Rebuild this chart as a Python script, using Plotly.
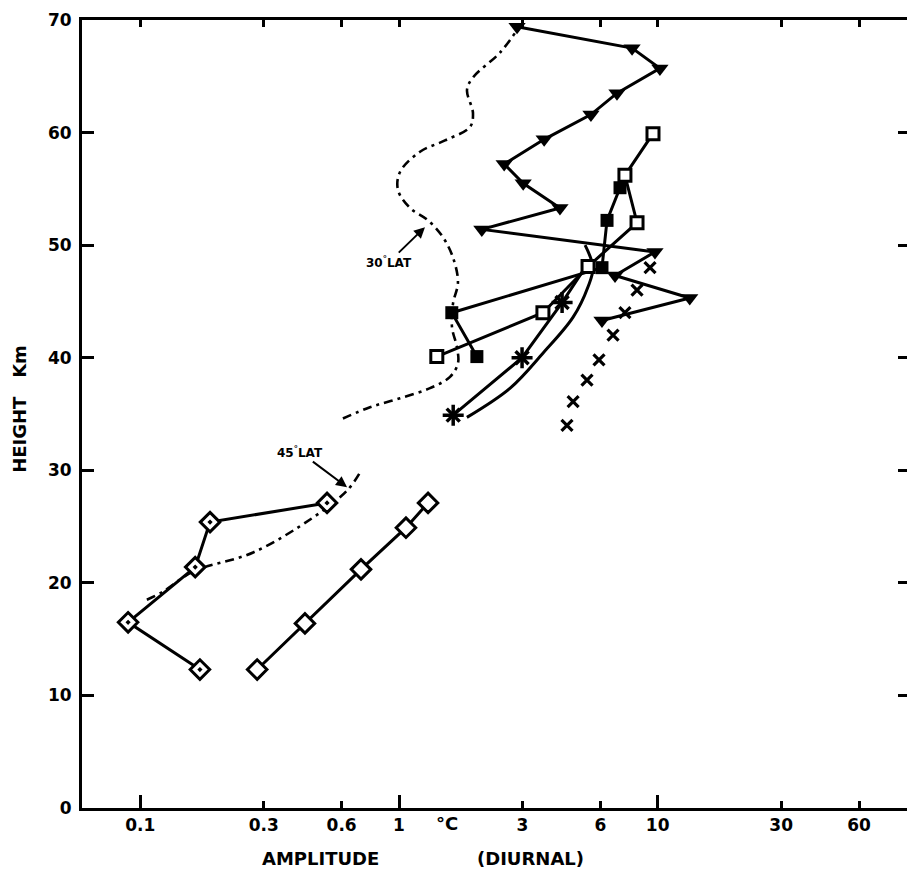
import math
import plotly.graph_objects as go

# ---------------- data ----------------
x_tickvals = [0.1, 0.3, 0.6, 1, 3, 6, 10, 30, 60]
x_ticktext = ["0.1", "0.3", "0.6", "1", "3", "6", "10", "30", "60"]
x_major = [0.1, 1, 10]
y_tickvals = [0, 10, 20, 30, 40, 50, 60, 70]

# filled inverted triangles (upper profile)
tri_amp = [2.86, 7.96, 10.2, 6.96, 5.52, 3.64, 2.55, 3.02, 4.19, 2.09, 9.76, 6.84, 13.3, 6.09]
tri_h = [69.4, 67.5, 65.7, 63.5, 61.6, 59.4, 57.2, 55.5, 53.3, 51.4, 49.4, 47.3, 45.3, 43.3]

# open squares
osq_amp = [9.59, 7.47, 8.32, 5.38, 3.60, 1.40]
osq_h = [59.9, 56.2, 52.0, 48.1, 44.0, 40.1]

# filled squares
fsq_amp = [7.15, 6.37, 6.09, 1.60, 2.00]
fsq_h = [55.1, 52.2, 48.0, 44.0, 40.1]

# asterisks: line through the symbols up to the cluster
ast_line_amp = [1.62, 2.99, 4.27, 5.24]
ast_line_h = [34.9, 40.0, 44.9, 48.0]
ast_amp = [1.62, 2.99, 4.27]
ast_h = [34.9, 40.0, 44.9]

# smooth curve without symbols
curve_amp = [1.83, 2.69, 3.60, 4.71, 5.38, 5.62, 5.24]
curve_h = [34.7, 37.3, 40.4, 43.6, 46.3, 48.0, 50.0]

# x symbols (no line)
xs_amp = [4.46, 4.71, 5.33, 5.93, 6.72, 7.47, 8.32, 9.34]
xs_h = [34.0, 36.1, 38.0, 39.8, 42.0, 44.0, 46.0, 48.0]

# diamonds with dot (lower left)
dd_amp = [0.170, 0.0897, 0.163, 0.186, 0.527]
dd_h = [12.3, 16.5, 21.4, 25.4, 27.1]

# open diamonds (lower right)
od_amp = [0.283, 0.433, 0.713, 1.064, 1.295]
od_h = [12.3, 16.4, 21.2, 24.9, 27.1]

# 45 deg LAT dash-dot curve
lat45_amp = [0.106, 0.122, 0.160, 0.273, 0.465, 0.630, 0.707]
lat45_h = [18.5, 19.2, 21.0, 22.7, 25.8, 28.2, 29.8]

# 30 deg LAT dash-dot curve
lat30_amp = [0.607, 0.772, 1.009, 1.318, 1.575, 1.69, 1.676, 1.603, 1.617, 1.69, 1.617, 1.479,
             1.295, 1.103, 0.991, 1.009, 1.206, 1.506, 1.881, 1.932, 1.832, 1.932, 2.457, 2.858]
lat30_h = [34.6, 35.6, 36.4, 37.3, 38.3, 39.5, 40.9, 42.7, 44.8, 46.7, 48.9, 50.7,
           52.2, 53.3, 54.9, 56.5, 58.3, 59.3, 60.5, 61.7, 63.8, 64.9, 67.1, 69.1]

# ---------------- figure ----------------
BLACK = "#000000"
FONT = "DejaVu Sans"
DASHDOT = "9px,5px,3px,5px"

fig = go.Figure()

fig.add_trace(go.Scatter(x=lat30_amp, y=lat30_h, mode="lines", line=dict(color=BLACK, width=2.6, dash=DASHDOT, shape="spline"), showlegend=False))
fig.add_trace(go.Scatter(x=lat45_amp, y=lat45_h, mode="lines", line=dict(color=BLACK, width=2.6, dash=DASHDOT, shape="spline"), showlegend=False))

fig.add_trace(go.Scatter(x=curve_amp, y=curve_h, mode="lines", line=dict(color=BLACK, width=3, shape="spline"), showlegend=False))

fig.add_trace(go.Scatter(x=ast_line_amp, y=ast_line_h, mode="lines", line=dict(color=BLACK, width=3), showlegend=False))
fig.add_trace(go.Scatter(x=ast_amp, y=ast_h, mode="markers",
                         marker=dict(symbol="cross-thin-open", size=15, color=BLACK, line=dict(color=BLACK, width=3.5)), showlegend=False))
fig.add_trace(go.Scatter(x=ast_amp, y=ast_h, mode="markers",
                         marker=dict(symbol="x-thin-open", size=13, color=BLACK, line=dict(color=BLACK, width=3.5)), showlegend=False))

fig.add_trace(go.Scatter(x=xs_amp, y=xs_h, mode="markers",
                         marker=dict(symbol="x-thin-open", size=11, color=BLACK, line=dict(color=BLACK, width=3.2)), showlegend=False))

fig.add_trace(go.Scatter(x=tri_amp, y=tri_h, mode="lines+markers", line=dict(color=BLACK, width=3),
                         marker=dict(symbol="triangle-down", size=15, color=BLACK), showlegend=False))

fig.add_trace(go.Scatter(x=fsq_amp, y=fsq_h, mode="lines+markers", line=dict(color=BLACK, width=3),
                         marker=dict(symbol="square", size=13, color=BLACK), showlegend=False))

fig.add_trace(go.Scatter(x=osq_amp, y=osq_h, mode="lines+markers", line=dict(color=BLACK, width=3),
                         marker=dict(symbol="square", size=12, color="white", line=dict(color=BLACK, width=3)), showlegend=False))

fig.add_trace(go.Scatter(x=dd_amp, y=dd_h, mode="lines+markers", line=dict(color=BLACK, width=3),
                         marker=dict(symbol="diamond-dot", size=15, color="white", line=dict(color=BLACK, width=3)), showlegend=False))

fig.add_trace(go.Scatter(x=od_amp, y=od_h, mode="lines+markers", line=dict(color=BLACK, width=3),
                         marker=dict(symbol="diamond", size=15, color="white", line=dict(color=BLACK, width=3)), showlegend=False))

# invisible helpers to show extra axes (long major x ticks, right-side y ticks)
fig.add_trace(go.Scatter(x=[1], y=[35], xaxis="x2", yaxis="y", mode="markers", marker=dict(opacity=0), hoverinfo="skip", showlegend=False))
fig.add_trace(go.Scatter(x=[1], y=[35], xaxis="x", yaxis="y2", mode="markers", marker=dict(opacity=0), hoverinfo="skip", showlegend=False))

xr = [-1.2254, 1.9637]
tickfont = dict(family=FONT, size=17, color=BLACK, weight="bold")

fig.update_layout(
    width=907, height=886,
    margin=dict(l=82, r=0, t=20, b=78),
    paper_bgcolor="white", plot_bgcolor="white",
    font=dict(family=FONT, color=BLACK),
    xaxis=dict(type="log", range=xr, tickvals=x_tickvals, ticktext=x_ticktext, ticks="inside", ticklen=7,
               tickwidth=2.5, tickcolor=BLACK, showline=True, linewidth=3, linecolor=BLACK, mirror="ticks",
               showgrid=False, zeroline=False, tickfont=tickfont, automargin=False),
    xaxis2=dict(type="log", range=xr, overlaying="x", side="bottom", tickvals=x_major, ticks="inside", ticklen=13,
                tickwidth=2.5, tickcolor=BLACK, showticklabels=False, showline=False, showgrid=False, zeroline=False),
    yaxis=dict(range=[0, 70], tickvals=y_tickvals, ticks="inside", ticklen=12, tickwidth=2.5, tickcolor=BLACK,
               showline=True, linewidth=3, linecolor=BLACK, showgrid=False, zeroline=False, tickfont=tickfont,
               ticklabelstandoff=4, automargin=False),
    yaxis2=dict(range=[0, 70], overlaying="y", side="right", tickvals=[10, 20, 30, 40, 50, 60], ticks="inside",
                ticklen=9, tickwidth=2.5, tickcolor=BLACK, showticklabels=False, showline=False, showgrid=False,
                zeroline=False),
)

lab = dict(family=FONT, size=18, color=BLACK, weight="bold")
small = dict(family=FONT, size=12, color=BLACK, weight="bold")

fig.add_annotation(xref="paper", yref="paper", x=0.2885, y=-0.0635, text="AMPLITUDE", showarrow=False, font=lab,
                   xanchor="center", yanchor="middle")
fig.add_annotation(xref="paper", yref="paper", x=0.544, y=-0.0635, text="(DIURNAL)", showarrow=False, font=lab,
                   xanchor="center", yanchor="middle")
fig.add_annotation(xref="x", yref="paper", x=math.log10(1.53), y=-0.02, text="°C", showarrow=False,
                   font=dict(family=FONT, size=18, color=BLACK, weight="bold"), xanchor="center", yanchor="middle")
fig.add_annotation(xref="paper", yref="paper", x=-0.0752, y=0.5065, text="HEIGHT&nbsp;&nbsp;&nbsp;Km", textangle=-90,
                   showarrow=False, font=lab, xanchor="center", yanchor="middle")

fig.add_annotation(xref="x", yref="y", x=math.log10(1.26), y=51.6, text="30<sup>°</sup>LAT", font=small,
                   showarrow=True, arrowhead=2, arrowsize=1.1, arrowwidth=2, arrowcolor=BLACK, ax=-36, ay=35)
fig.add_annotation(xref="x", yref="y", x=math.log10(0.63), y=28.5, text="45<sup>°</sup>LAT", font=small,
                   showarrow=True, arrowhead=2, arrowsize=1.1, arrowwidth=2, arrowcolor=BLACK, ax=-47, ay=-35)

fig.write_html("out.html", config={"displayModeBar": False}, post_script="document.body.style.margin='0';")
